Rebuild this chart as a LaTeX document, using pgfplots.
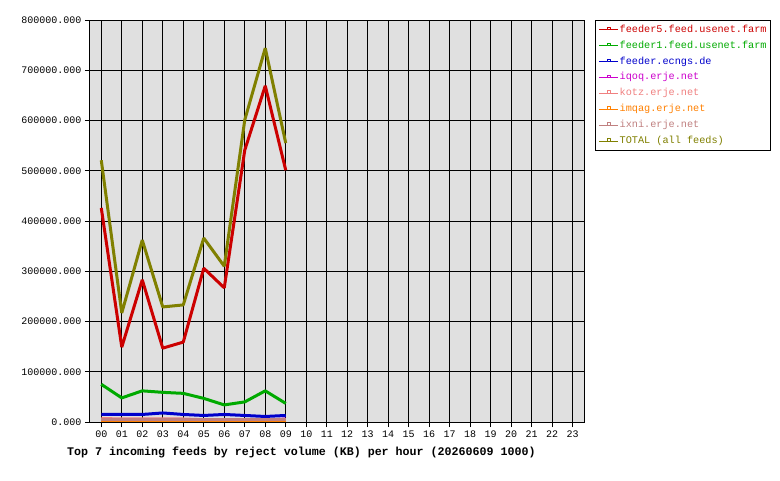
\documentclass[border=0pt]{standalone}
\usepackage{pgfplots}
\pgfplotsset{compat=1.18}
\usepackage{fontspec}
\setmainfont{Liberation Mono}
\definecolor{cA}{RGB}{204,0,0}
\definecolor{cB}{RGB}{0,170,0}
\definecolor{cC}{RGB}{0,0,204}
\definecolor{cD}{RGB}{204,0,204}
\definecolor{cE}{RGB}{240,128,128}
\definecolor{cF}{RGB}{255,128,0}
\definecolor{cG}{RGB}{192,128,128}
\definecolor{cH}{RGB}{128,128,0}
\definecolor{bg}{RGB}{224,224,224}
\begin{document}
\begin{tikzpicture}[x=1pt,y=1pt]
\path[use as bounding box, fill=white] (0,0) rectangle (780,480);
\begin{axis}[
  at={(90pt,58pt)}, anchor=south west,
  width=494pt, height=402pt, scale only axis,
  xmin=-0.55, xmax=23.55, ymin=0, ymax=800000,
  axis background/.style={fill=bg},
  axis line style={black, line width=1pt},
  grid=major, major grid style={black, line width=1pt},
  tick align=outside, major tick length=5pt,
  tick style={black, line width=1pt},
  xtick={0,...,23},
  xticklabels={00,01,02,03,04,05,06,07,08,09,10,11,12,13,14,15,16,17,18,19,20,21,22,23},
  ytick={0,100000,200000,300000,400000,500000,600000,700000,800000},
  yticklabels={0.000,100000.000,200000.000,300000.000,400000.000,500000.000,600000.000,700000.000,800000.000},
  scaled y ticks=false,
  ticklabel style={font=\fontsize{10}{12}\selectfont},
  /pgf/number format/assume math mode=true,
  xtick pos=bottom, ytick pos=left,
  legend cell align=left,
  legend image code/.code={
    \draw[#1, line width=1pt] (0pt,0pt) -- (19pt,0pt);
    \draw[#1, line width=0.8pt, fill=white] (8pt,0pt) rectangle (11pt,2.5pt);
  },
  legend style={at={(1,1)}, anchor=north west, xshift=11pt, draw=black, line width=1pt, fill=white,
    font=\fontsize{10.2}{12}\selectfont, inner sep=3pt, row sep=3.5pt,
    nodes={inner sep=1.2pt, text height=7.5pt, text depth=2.5pt}},
  every axis plot/.append style={line width=3pt, no marks, line join=bevel},
]
\addplot[cA] coordinates {(0,426000)(1,149000)(2,283000)(3,147000)(4,159000)(5,306000)(6,267000)(7,541000)(8,669000)(9,501000)};
\addlegendentry{\textcolor{cA}{feeder5.feed.usenet.farm}}
\addplot[cB] coordinates {(0,75000)(1,48000)(2,62000)(3,59000)(4,57000)(5,47000)(6,34000)(7,40000)(8,62000)(9,37000)};
\addlegendentry{\textcolor{cB}{feeder1.feed.usenet.farm}}
\addplot[cC] coordinates {(0,15000)(1,15000)(2,15000)(3,18000)(4,15000)(5,13000)(6,15000)(7,13000)(8,11000)(9,13000)};
\addlegendentry{\textcolor{cC}{feeder.ecngs.de}}
\addplot[cD] coordinates {(0,3000)(1,3000)(2,3000)(3,3000)(4,3000)(5,3000)(6,3000)(7,3000)(8,3000)(9,6000)};
\addlegendentry{\textcolor{cD}{iqoq.erje.net}}
\addplot[cE] coordinates {(0,7000)(1,6000)(2,6000)(3,6000)(4,6000)(5,4500)(6,4500)(7,4500)(8,4500)(9,4500)};
\addlegendentry{\textcolor{cE}{kotz.erje.net}}
\addplot[cF] coordinates {(0,2500)(1,2500)(2,2500)(3,2500)(4,2500)(5,2500)(6,2500)(7,2500)(8,2500)(9,2500)};
\addlegendentry{\textcolor{cF}{imqag.erje.net}}
\addplot[cG] coordinates {(0,4000)(1,4000)(2,4000)(3,4000)(4,4000)(5,4000)(6,4000)(7,4000)(8,4000)(9,4000)};
\addlegendentry{\textcolor{cG}{ixni.erje.net}}
\addplot[cH] coordinates {(0,521000)(1,217000)(2,362000)(3,229000)(4,233000)(5,366000)(6,310000)(7,601000)(8,744000)(9,555000)};
\addlegendentry{\textcolor{cH}{TOTAL (all feeds)}}
\end{axis}
\node[anchor=west, font=\fontsize{11.65}{13}\bfseries\selectfont, inner sep=0pt] at (67,28) {Top 7 incoming feeds by reject volume (KB) per hour (20260609 1000)};
\end{tikzpicture}
\end{document}
